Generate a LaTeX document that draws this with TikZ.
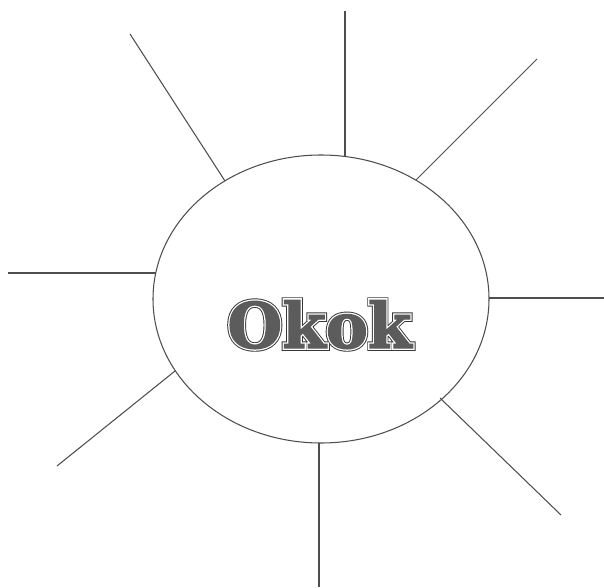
\documentclass[tikz,border=0pt]{standalone}
\usepackage{fontspec}
\usetikzlibrary{shapes.geometric}
\newfontfamily\okA[FakeBold=9]{DejaVu Serif}
\newfontfamily\okB[FakeBold=6]{DejaVu Serif}
\newfontfamily\okC[FakeBold=2]{DejaVu Serif}
\definecolor{linegray}{RGB}{78,78,78}
\definecolor{txtfill}{RGB}{92,92,92}
\definecolor{txtedge}{RGB}{55,55,55}
\begin{document}
\begin{tikzpicture}[x=1pt,y=1pt,
  ray/.style={draw=linegray,line width=1.05pt},
  sunbody/.style={ellipse,draw=linegray,line width=1.05pt,minimum width=336pt,minimum height=288pt,inner sep=0pt}]
\useasboundingbox (0,0) rectangle (604,587);
\fill[white] (0,0) rectangle (604,587);
\node[sunbody] (sun) at (321,288) {};
\node[anchor=base,inner sep=0pt,font=\fontsize{63}{63}\selectfont\bfseries] (label) at (319.5,239)
 {\rlap{\okA\bfseries\color{txtedge}Okok}\rlap{\okB\bfseries\color{white}Okok}{\okC\bfseries\color{txtfill}Okok}};
% outer ends
\coordinate (o1) at (345,576);
\coordinate (o2) at (537,528);
\coordinate (o3) at (604,289);
\coordinate (o4) at (561,72);
\coordinate (o5) at (319,0);
\coordinate (o6) at (57,121);
\coordinate (o7) at (8,314);
\coordinate (o8) at (130,553);
% inner ends on the ellipse
\coordinate (i1) at (345,431);
\coordinate (i2) at (416,407);
\coordinate (i3) at (489,289);
\coordinate (i4) at (440,189);
\coordinate (i5) at (319,144);
\coordinate (i6) at (175,216);
\coordinate (i7) at (156,314);
\coordinate (i8) at (225,406);
\foreach \k in {1,...,8} {\draw[ray] (o\k) -- (i\k);}
\end{tikzpicture}
\end{document}
